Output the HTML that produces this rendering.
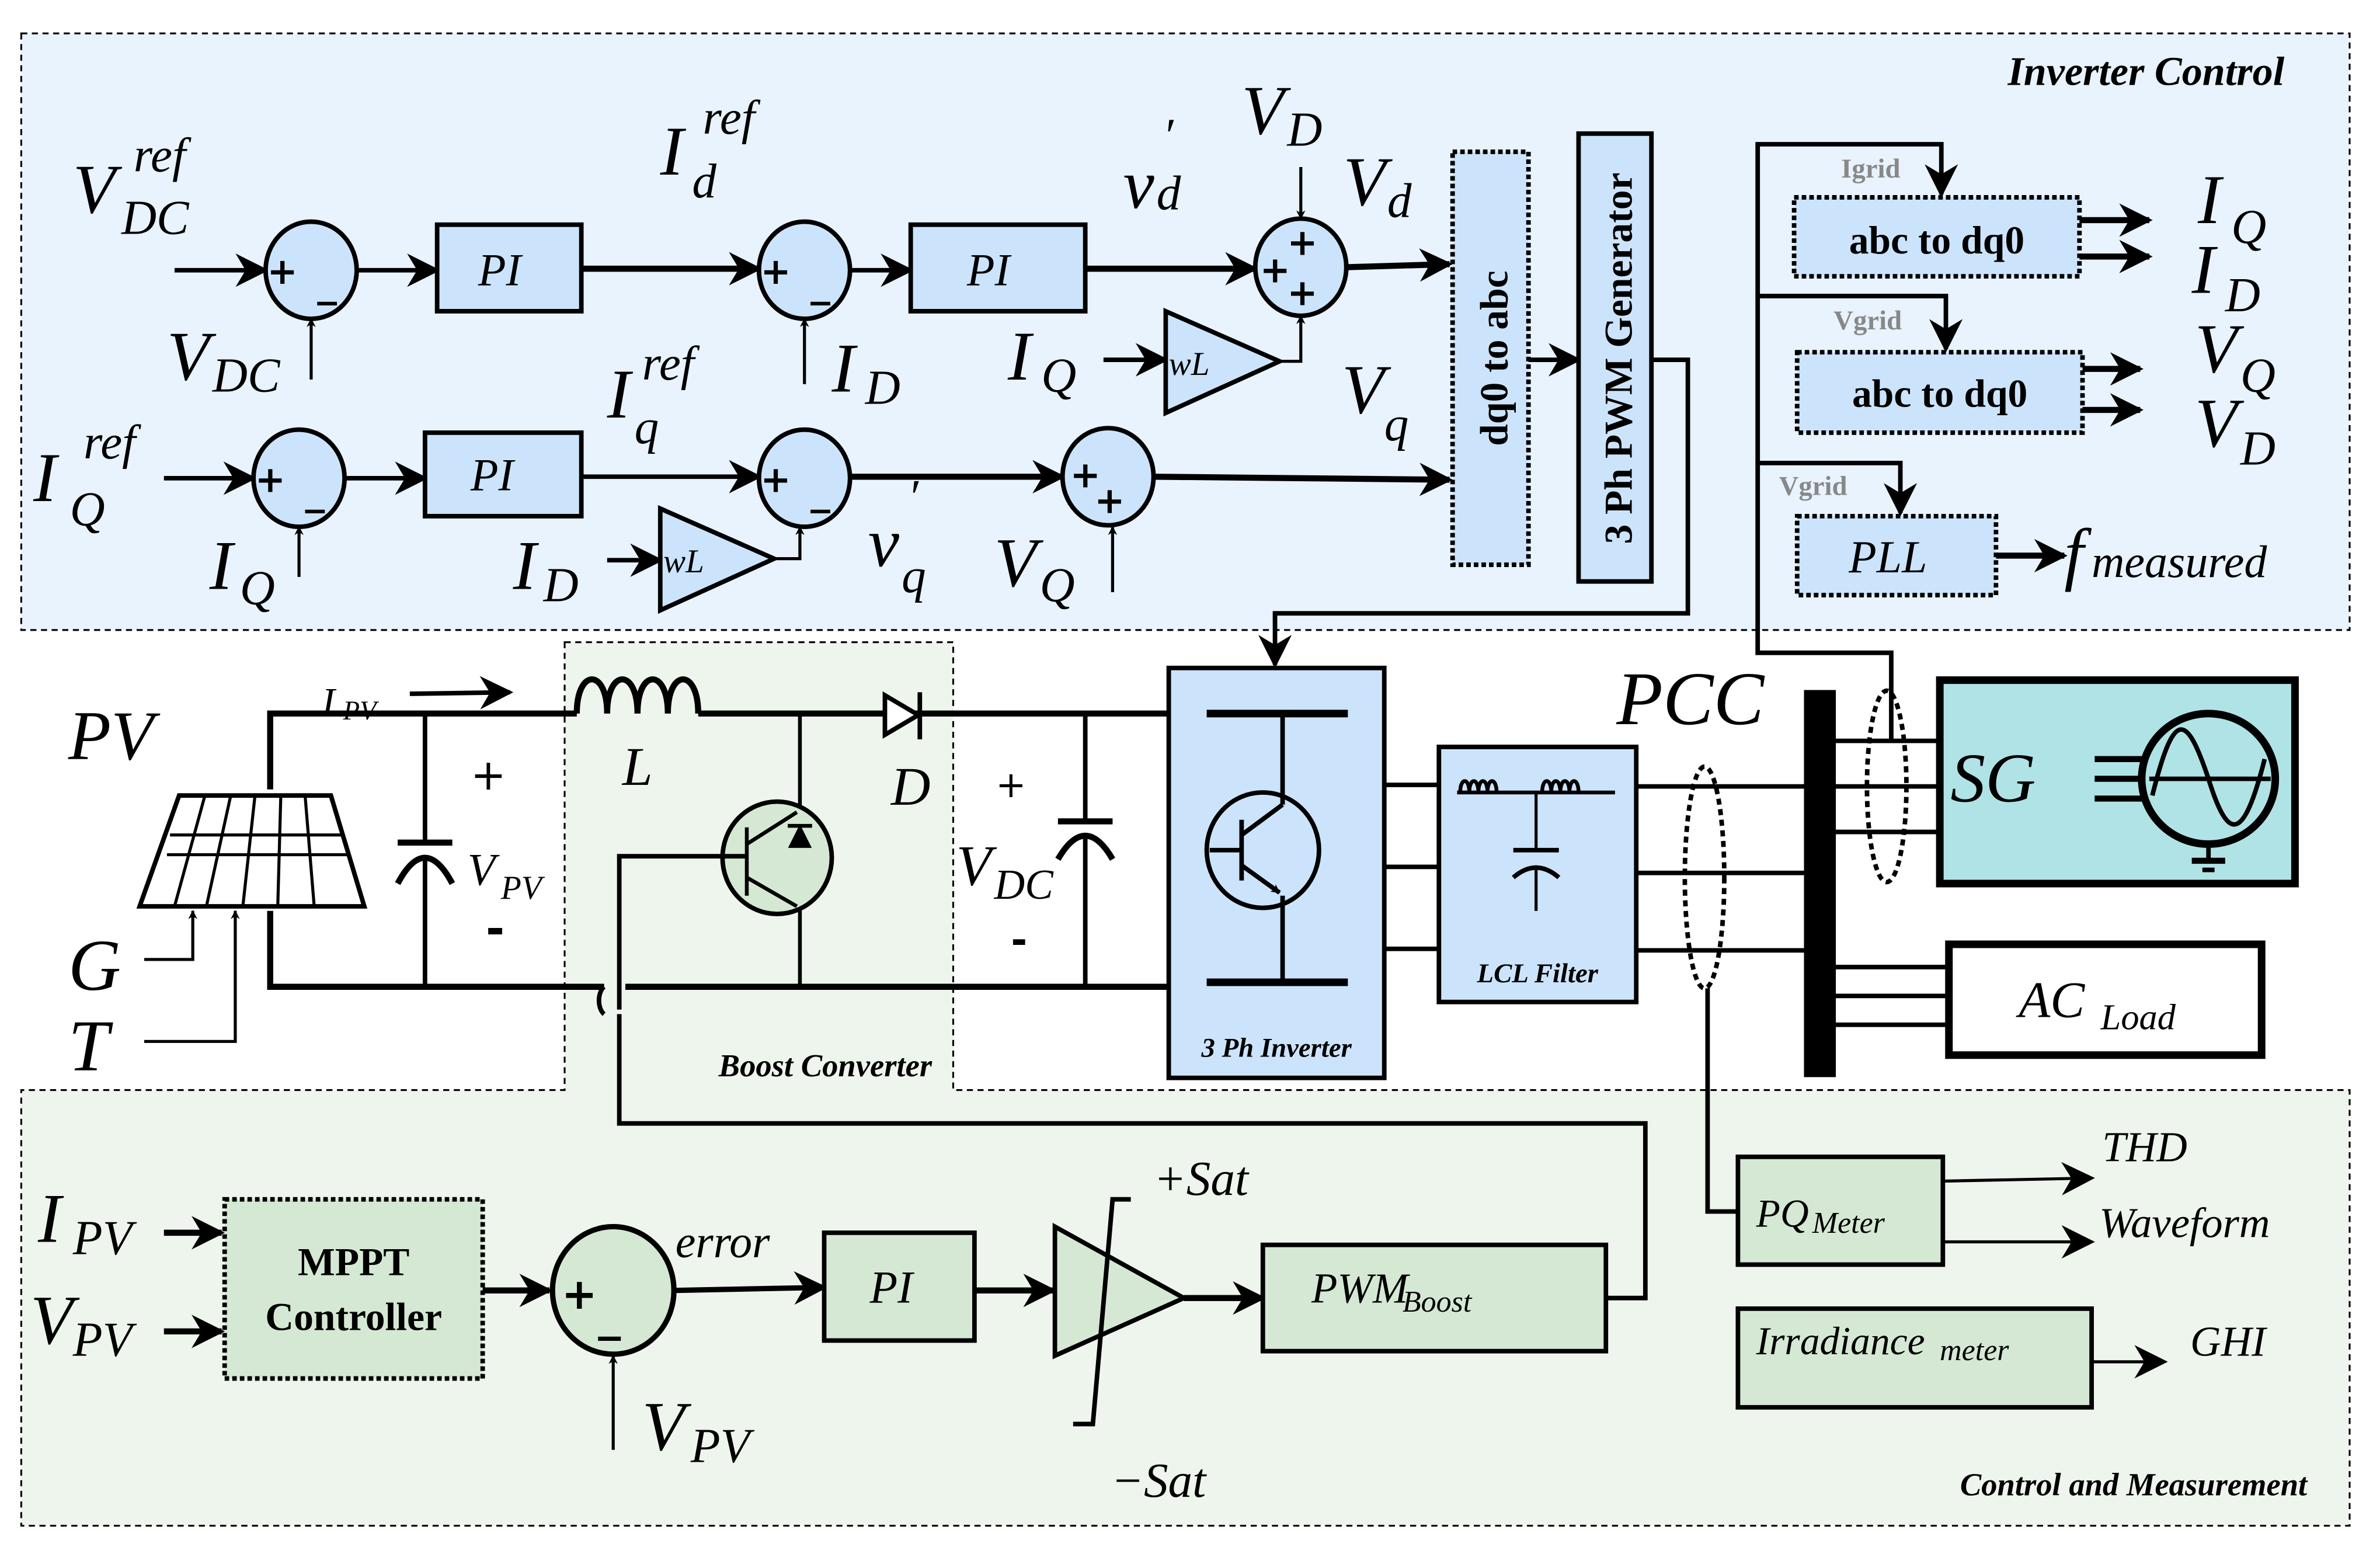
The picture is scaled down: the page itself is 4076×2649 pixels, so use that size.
<!DOCTYPE html>
<html><head><meta charset="utf-8"><style>
html,body{margin:0;padding:0;background:#fff}
svg{display:block}
.m{font-family:"Liberation Serif",serif;font-style:italic}
.b{font-family:"Liberation Serif",serif;font-weight:bold}
.bi{font-family:"Liberation Serif",serif;font-weight:bold;font-style:italic}
</style></head><body>
<svg width="4076" height="2649" viewBox="0 0 1568 1019" preserveAspectRatio="none" xmlns="http://www.w3.org/2000/svg">
<defs>
<marker id="a" viewBox="0 0 10 10" refX="9" refY="5" markerWidth="6" markerHeight="6" orient="auto" markerUnits="userSpaceOnUse"><path d="M0,0 L10,5 L0,10 L3,5 z" fill="#000"/></marker>
<marker id="A" viewBox="0 0 10 10" refX="9" refY="5" markerWidth="22" markerHeight="22" orient="auto" markerUnits="userSpaceOnUse"><path d="M0,0 L10,5 L0,10 L3,5 z" fill="#000"/></marker>
</defs>
<rect x="14" y="22" width="1534" height="393" fill="#e8f3fe" stroke="#000" stroke-width="1.2" stroke-dasharray="4,3"/>
<path d="M372,423 H628 V718 H1548 V1005 H14 V718 H372 Z" fill="#eef5ec" stroke="#000" stroke-width="1.2" stroke-dasharray="4,3"/>
<text x="1505" y="56" class="bi" font-size="27" text-anchor="end">Inverter Control</text>
<text x="1520" y="985" class="bi" font-size="21" text-anchor="end">Control and Measurement</text>
<text x="614" y="709" class="bi" font-size="21" text-anchor="end">Boost Converter</text>

<g stroke="#000" stroke-width="3" fill="none">
<line x1="115" y1="178" x2="175" y2="178" marker-end="url(#A)"/>
<ellipse cx="205" cy="178" rx="30" ry="32" fill="#cce4fb"/>
<line x1="235" y1="178" x2="288" y2="178" marker-end="url(#A)"/>
<rect x="288" y="148" width="95" height="57" fill="#cce4fb"/>
<line x1="383" y1="177" x2="500" y2="177" stroke-width="4" marker-end="url(#A)"/>
<ellipse cx="530" cy="178" rx="30" ry="32" fill="#cce4fb"/>
<line x1="560" y1="178" x2="600" y2="178" marker-end="url(#A)"/>
<rect x="600" y="148" width="115" height="57" fill="#cce4fb"/>
<line x1="715" y1="177" x2="827" y2="177" stroke-width="4" marker-end="url(#A)"/>
<ellipse cx="857" cy="176" rx="30" ry="32" fill="#cce4fb"/>
<line x1="887" y1="176" x2="955" y2="174" stroke-width="4" marker-end="url(#A)"/>
<line x1="205" y1="250" x2="205" y2="210" stroke-width="2" marker-end="url(#a)"/>
<line x1="530" y1="253" x2="530" y2="210" stroke-width="2" marker-end="url(#a)"/>
<line x1="857" y1="110" x2="857" y2="144" stroke-width="2" marker-end="url(#a)"/>
<polyline points="843,238 857,238 857,208" stroke-width="2" marker-end="url(#a)"/>
<line x1="727" y1="237" x2="768" y2="237" stroke-width="3" marker-end="url(#A)"/>
<polygon points="768,205 768,272 843,238" fill="#cce4fb"/>
<line x1="108" y1="315" x2="167" y2="315" marker-end="url(#A)"/>
<ellipse cx="197" cy="315" rx="30" ry="32" fill="#cce4fb"/>
<line x1="227" y1="315" x2="280" y2="315" marker-end="url(#A)"/>
<rect x="280" y="285" width="103" height="55" fill="#cce4fb"/>
<line x1="383" y1="314" x2="500" y2="314" marker-end="url(#A)"/>
<ellipse cx="530" cy="315" rx="30" ry="32" fill="#cce4fb"/>
<line x1="560" y1="314" x2="700" y2="314" stroke-width="4" marker-end="url(#A)"/>
<ellipse cx="730" cy="314" rx="30" ry="32" fill="#cce4fb"/>
<line x1="760" y1="314" x2="955" y2="316" stroke-width="4" marker-end="url(#A)"/>
<line x1="197" y1="380" x2="197" y2="347" stroke-width="2" marker-end="url(#a)"/>
<line x1="733" y1="390" x2="733" y2="347" stroke-width="2" marker-end="url(#a)"/>
<polyline points="510,368 527,368 527,347" stroke-width="2" marker-end="url(#a)"/>
<line x1="400" y1="369" x2="435" y2="369" stroke-width="3" marker-end="url(#A)"/>
<polygon points="435,335 435,402 510,368" fill="#cce4fb"/>
<rect x="957" y="100" width="50" height="272" fill="#cce4fb" stroke-dasharray="3,2"/>
<line x1="1007" y1="237" x2="1040" y2="237" marker-end="url(#A)"/>
<rect x="1040" y="88" width="48" height="295" fill="#cce4fb"/>
<polyline points="1088,237 1112,237 1112,404 840,404 840,438" marker-end="url(#A)"/>
<polyline points="1246,488 1246,430 1158,430 1158,95 1279,95 1279,128" marker-end="url(#A)"/>
<polyline points="1158,195 1282,195 1282,230" marker-end="url(#A)"/>
<polyline points="1158,305 1252,305 1252,338" marker-end="url(#A)"/>
<rect x="1182" y="130" width="188" height="52" fill="#cce4fb" stroke-dasharray="3,2"/>
<rect x="1184" y="232" width="188" height="53" fill="#cce4fb" stroke-dasharray="3,2"/>
<rect x="1184" y="340" width="131" height="52" fill="#cce4fb" stroke-dasharray="3,2"/>
<line x1="1370" y1="145" x2="1416" y2="145" stroke-width="4" marker-end="url(#A)"/>
<line x1="1370" y1="169" x2="1416" y2="169" stroke-width="4" marker-end="url(#A)"/>
<line x1="1372" y1="243" x2="1410" y2="243" stroke-width="4" marker-end="url(#A)"/>
<line x1="1372" y1="270" x2="1410" y2="270" stroke-width="4" marker-end="url(#A)"/>
<line x1="1315" y1="366" x2="1360" y2="366" stroke-width="4" marker-end="url(#A)"/>

<polyline points="178,520 178,470 380,470" stroke-width="4"/>
<path d="M380,470 C380,440 400,440 400,470 C400,440 420,440 420,470 C420,440 440,440 440,470 C440,440 460,440 460,470" stroke-width="4"/>
<line x1="460" y1="470" x2="770" y2="470" stroke-width="4"/>
<polygon points="583,458 583,484 605,471" fill="#fff" stroke-width="3"/>
<line x1="606" y1="456" x2="606" y2="487" stroke-width="3"/>
<polyline points="178,600 178,650 398,650" stroke-width="4"/>
<path d="M398,650 a6,10 0 0 0 0,18" stroke-width="3"/>
<line x1="412" y1="650" x2="770" y2="650" stroke-width="4"/>
<line x1="280" y1="470" x2="280" y2="555" stroke-width="3"/>
<line x1="262" y1="555" x2="298" y2="555" stroke-width="4"/>
<path d="M262,582 Q280,548 298,582" stroke-width="4"/>
<line x1="280" y1="566" x2="280" y2="650" stroke-width="3"/>
<line x1="715" y1="470" x2="715" y2="540" stroke-width="3"/>
<line x1="697" y1="541" x2="733" y2="541" stroke-width="4"/>
<path d="M697,566 Q715,535 733,566" stroke-width="4"/>
<line x1="715" y1="552" x2="715" y2="650" stroke-width="3"/>
<line x1="527" y1="470" x2="527" y2="650" stroke-width="2.5"/>
<ellipse cx="512" cy="565" rx="36" ry="37" fill="#d5e8d4" stroke-width="3"/>
<line x1="492" y1="545" x2="492" y2="590" stroke-width="2.5"/>
<line x1="492" y1="556" x2="525" y2="535" stroke-width="2.5"/>
<line x1="492" y1="578" x2="525" y2="597" stroke-width="2.5"/>
<polygon points="520,558 534,558 527,544" fill="#000" stroke-width="1"/>
<line x1="519" y1="544" x2="535" y2="544" stroke-width="2.5"/>
<polyline points="408,665 408,564 492,564" stroke-width="3"/>
<polyline points="408,668 408,740 1084,740 1084,855 1058,855" stroke-width="3"/>
<polygon points="118,524 218,524 240,597 92,597" stroke-width="3"/>
<g stroke-width="2">
<line x1="112" y1="550" x2="226" y2="550"/><line x1="110" y1="563" x2="230" y2="563"/>
<line x1="135" y1="524" x2="115" y2="597"/><line x1="152" y1="524" x2="136" y2="597"/><line x1="168" y1="524" x2="160" y2="597"/><line x1="185" y1="524" x2="183" y2="597"/><line x1="201" y1="524" x2="207" y2="597"/>
</g>
<polyline points="95,632 127,632 127,600" stroke-width="2" marker-end="url(#a)"/>
<polyline points="95,686 155,686 155,600" stroke-width="2" marker-end="url(#a)"/>
<line x1="270" y1="457" x2="336" y2="456" stroke-width="3" marker-end="url(#A)"/>
<rect x="770" y="440" width="142" height="270" fill="#cce4fb"/>
<line x1="795" y1="470" x2="888" y2="470" stroke-width="5"/>
<line x1="795" y1="647" x2="888" y2="647" stroke-width="5"/>
<line x1="845" y1="470" x2="845" y2="530"/><line x1="845" y1="590" x2="845" y2="647"/>
<ellipse cx="832" cy="560" rx="37" ry="38" fill="none"/>
<line x1="818" y1="540" x2="818" y2="580"/>
<line x1="797" y1="560" x2="818" y2="560"/>
<line x1="818" y1="550" x2="845" y2="530"/><line x1="818" y1="570" x2="843" y2="588" marker-end="url(#a)"/>
<line x1="912" y1="517" x2="948" y2="517"/><line x1="912" y1="571" x2="948" y2="571"/><line x1="912" y1="625" x2="948" y2="625"/>
<rect x="948" y="492" width="130" height="168" fill="#cce4fb"/>
<path d="M962,522 c0,-10 6,-10 6,0 c0,-10 6,-10 6,0 c0,-10 6,-10 6,0 c0,-10 6,-10 6,0 M1016,522 c0,-10 6,-10 6,0 c0,-10 6,-10 6,0 c0,-10 6,-10 6,0 c0,-10 6,-10 6,0" stroke-width="2.5"/>
<line x1="960" y1="522" x2="1064" y2="522" stroke-width="2.5"/>
<line x1="1012" y1="522" x2="1012" y2="560" stroke-width="2"/>
<line x1="997" y1="560" x2="1027" y2="560" stroke-width="3"/>
<path d="M997,578 Q1012,565 1027,578" stroke-width="3"/>
<line x1="1012" y1="570" x2="1012" y2="600" stroke-width="2"/>
<line x1="1078" y1="518" x2="1190" y2="518"/><line x1="1078" y1="575" x2="1190" y2="575"/><line x1="1078" y1="626" x2="1190" y2="626"/>
<ellipse cx="1123" cy="578" rx="13" ry="73" stroke-dasharray="4,3"/>
<polyline points="1125,651 1125,798 1145,798"/>
<rect x="1190" y="456" width="18" height="252" fill="#000"/>
<line x1="1208" y1="488" x2="1278" y2="488"/><line x1="1208" y1="518" x2="1278" y2="518"/><line x1="1208" y1="548" x2="1278" y2="548"/>
<ellipse cx="1243" cy="518" rx="13" ry="63" stroke-dasharray="4,3"/>
<rect x="1278" y="448" width="234" height="134" fill="#b0e3e6" stroke-width="5"/>
<line x1="1380" y1="500" x2="1413" y2="500" stroke-width="4"/><line x1="1380" y1="513" x2="1413" y2="513" stroke-width="4"/><line x1="1380" y1="526" x2="1413" y2="526" stroke-width="4"/>
<ellipse cx="1455" cy="513" rx="44" ry="43" stroke-width="5"/>
<path d="M1418,524 C1432,468 1440,468 1455,513 C1468,555 1478,555 1492,500" stroke-width="3"/>
<line x1="1416" y1="513" x2="1496" y2="513" stroke-width="3"/>
<line x1="1455" y1="556" x2="1455" y2="567" stroke-width="3"/><line x1="1444" y1="567" x2="1466" y2="567" stroke-width="4"/><line x1="1451" y1="573" x2="1459" y2="573" stroke-width="3"/>
<line x1="1208" y1="637" x2="1284" y2="637"/><line x1="1208" y1="656" x2="1284" y2="656"/><line x1="1208" y1="675" x2="1284" y2="675"/>
<rect x="1284" y="622" width="206" height="73" fill="#fff" stroke-width="5"/>
<line x1="108" y1="812" x2="146" y2="812" stroke-width="4" marker-end="url(#A)"/>
<line x1="108" y1="877" x2="146" y2="877" stroke-width="4" marker-end="url(#A)"/>
<rect x="148" y="790" width="170" height="118" fill="#d5e8d4" stroke-dasharray="3,2"/>
<line x1="318" y1="850" x2="362" y2="850" stroke-width="4" marker-end="url(#A)"/>
<ellipse cx="404" cy="850" rx="40" ry="42" fill="#d5e8d4" stroke-width="3.5"/>
<line x1="444" y1="850" x2="543" y2="848" stroke-width="3.5" marker-end="url(#A)"/>
<line x1="404" y1="955" x2="404" y2="893" stroke-width="2" marker-end="url(#a)"/>
<rect x="543" y="812" width="99" height="71" fill="#d5e8d4"/>
<line x1="642" y1="850" x2="694" y2="850" stroke-width="4" marker-end="url(#A)"/>
<polygon points="695,808 695,893 780,855" fill="#d5e8d4"/>
<polyline points="745,790 733,790 720,938 707,938" stroke-width="3"/>
<line x1="780" y1="855" x2="832" y2="855" stroke-width="4" marker-end="url(#A)"/>
<rect x="832" y="820" width="226" height="70" fill="#d5e8d4"/>
<rect x="1145" y="762" width="135" height="71" fill="#d5e8d4"/>
<line x1="1280" y1="778" x2="1378" y2="776" stroke-width="2" marker-end="url(#A)"/>
<line x1="1280" y1="818" x2="1378" y2="818" stroke-width="2" marker-end="url(#A)"/>
<rect x="1145" y="862" width="233" height="65" fill="#d5e8d4"/>
<line x1="1378" y1="897" x2="1426" y2="897" stroke-width="2" marker-end="url(#A)"/>
</g>

<g class="m" fill="#000">
<text x="48" y="140" font-size="46">V</text><text x="88" y="113" font-size="32">ref</text><text x="80" y="154" font-size="32">DC</text>
<text x="110" y="250" font-size="46">V</text><text x="140" y="258" font-size="32">DC</text>
<text x="22" y="330" font-size="46">I</text><text x="55" y="302" font-size="32">ref</text><text x="46" y="346" font-size="32">Q</text>
<text x="138" y="388" font-size="46">I</text><text x="158" y="398" font-size="32">Q</text>
<text x="435" y="115" font-size="46">I</text><text x="463" y="88" font-size="32">ref</text><text x="456" y="130" font-size="32">d</text>
<text x="548" y="258" font-size="46">I</text><text x="570" y="266" font-size="32">D</text>
<text x="400" y="275" font-size="46">I</text><text x="423" y="250" font-size="32">ref</text><text x="418" y="292" font-size="32">q</text>
<text x="338" y="388" font-size="46">I</text><text x="358" y="396" font-size="32">D</text>
<text x="740" y="137" font-size="46">v</text><text x="766" y="100" font-size="32">′</text><text x="762" y="138" font-size="32">d</text>
<text x="572" y="373" font-size="46">v</text><text x="598" y="338" font-size="32">′</text><text x="594" y="390" font-size="32">q</text>
<text x="818" y="88" font-size="46">V</text><text x="848" y="96" font-size="32">D</text>
<text x="885" y="135" font-size="46">V</text><text x="914" y="143" font-size="32">d</text>
<text x="664" y="250" font-size="46">I</text><text x="686" y="258" font-size="32">Q</text>
<text x="884" y="272" font-size="46">V</text><text x="912" y="290" font-size="32">q</text>
<text x="655" y="386" font-size="46">V</text><text x="685" y="396" font-size="32">Q</text>
<text x="315" y="188" font-size="30">PI</text><text x="637" y="188" font-size="30">PI</text><text x="310" y="323" font-size="30">PI</text>
<text x="770" y="247" font-size="22">wL</text><text x="437" y="377" font-size="22">wL</text>
<text x="1448" y="147" font-size="46">I</text><text x="1470" y="160" font-size="32">Q</text>
<text x="1444" y="193" font-size="46">I</text><text x="1466" y="205" font-size="32">D</text>
<text x="1446" y="245" font-size="46">V</text><text x="1476" y="258" font-size="32">Q</text>
<text x="1446" y="294" font-size="46">V</text><text x="1476" y="306" font-size="32">D</text>
<text x="1218" y="377" font-size="30">PLL</text>
<text x="1360" y="380" font-size="46">f</text><text x="1378" y="380" font-size="30">measured</text>
<text x="45" y="500" font-size="46">PV</text>
<text x="212" y="471" font-size="26">I</text><text x="226" y="474" font-size="18">PV</text>
<text x="410" y="517" font-size="36">L</text>
<text x="587" y="530" font-size="36">D</text>
<text x="308" y="583" font-size="30">V</text><text x="330" y="592" font-size="22">PV</text>
<text x="630" y="583" font-size="38">V</text><text x="655" y="592" font-size="28">DC</text>
<text x="45" y="652" font-size="48">G</text><text x="45" y="705" font-size="48">T</text>
<text x="1065" y="477" font-size="50">PCC</text>
<text x="1285" y="528" font-size="46">SG</text>
<text x="1330" y="670" font-size="34">AC</text><text x="1384" y="678" font-size="24">Load</text>
<text x="25" y="818" font-size="46">I</text><text x="48" y="826" font-size="32">PV</text>
<text x="20" y="885" font-size="46">V</text><text x="48" y="893" font-size="32">PV</text>
<text x="423" y="955" font-size="46">V</text><text x="455" y="963" font-size="32">PV</text>
<text x="445" y="828" font-size="30">error</text>
<text x="573" y="858" font-size="30">PI</text>
<text x="760" y="787" font-size="32">+Sat</text>
<text x="732" y="986" font-size="32">−Sat</text>
<text x="864" y="858" font-size="28">PWM</text><text x="924" y="864" font-size="20">Boost</text>
<text x="1157" y="808" font-size="26">PQ</text><text x="1194" y="812" font-size="20">Meter</text>
<text x="1157" y="892" font-size="26">Irradiance</text><text x="1278" y="896" font-size="20">meter</text>
<text x="1385" y="765" font-size="28">THD</text>
<text x="1383" y="815" font-size="28">Waveform</text>
<text x="1443" y="893" font-size="28">GHI</text>
</g>
<g font-family="DejaVu Sans,sans-serif" font-weight="bold" fill="#000">
<text x="176" y="187" font-size="24">+</text><text x="209" y="195" font-size="26">_</text>
<text x="501" y="187" font-size="24">+</text><text x="534" y="195" font-size="26">_</text>
<text x="168" y="324" font-size="24">+</text><text x="201" y="332" font-size="26">_</text>
<text x="501" y="324" font-size="24">+</text><text x="534" y="332" font-size="26">_</text>
<text x="848" y="168" font-size="24">+</text><text x="830" y="186" font-size="24">+</text><text x="848" y="201" font-size="24">+</text>
<text x="705" y="321" font-size="24">+</text><text x="721" y="338" font-size="24">+</text>
<text x="370" y="862" font-size="28">+</text><text x="394" y="876" font-size="30">_</text>
<text x="310" y="520" font-size="28" font-weight="normal">+</text><text x="320" y="622" font-size="30">-</text>
<text x="656" y="525" font-size="24" font-weight="normal">+</text><text x="666" y="628" font-size="26">-</text>
</g>
<g class="b" fill="#000">
<text x="1276" y="167" font-size="26" text-anchor="middle">abc to dq0</text>
<text x="1278" y="268" font-size="26" text-anchor="middle">abc to dq0</text>
<text x="233" y="840" font-size="26" text-anchor="middle">MPPT</text>
<text x="233" y="876" font-size="26" text-anchor="middle">Controller</text>
<text transform="translate(993,236) rotate(-90)" font-size="26" text-anchor="middle">dq0 to abc</text>
<text transform="translate(1075,236) rotate(-90)" font-size="26" text-anchor="middle">3 Ph PWM Generator</text>
<text x="1213" y="117" font-size="18" fill="#888">Igrid</text>
<text x="1208" y="217" font-size="18" fill="#888">Vgrid</text>
<text x="1172" y="326" font-size="18" fill="#888">Vgrid</text>
</g>
<text x="841" y="696" class="bi" font-size="18" text-anchor="middle">3 Ph Inverter</text>
<text x="1013" y="647" class="bi" font-size="18" text-anchor="middle">LCL Filter</text>
</svg>
</body></html>
